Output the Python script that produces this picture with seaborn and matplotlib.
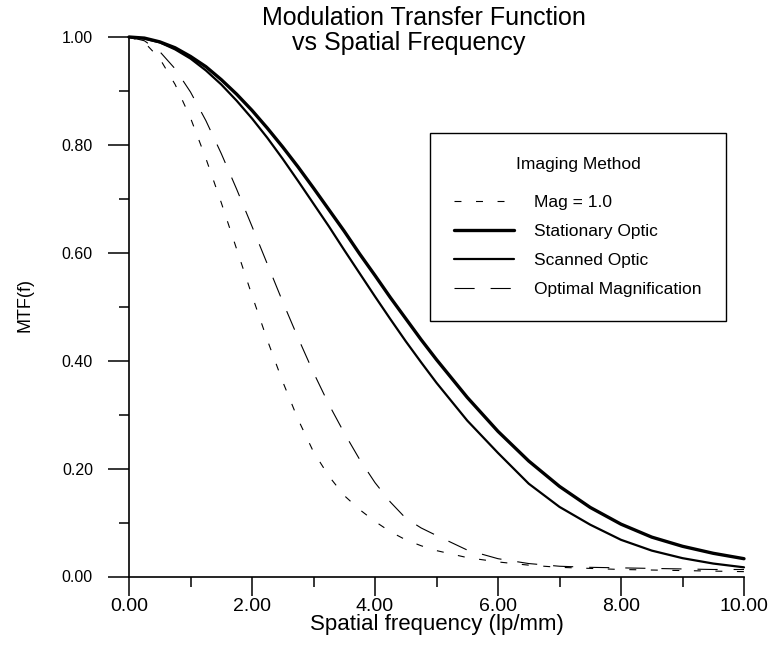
import matplotlib
matplotlib.use("Agg")
import matplotlib.pyplot as plt
from matplotlib.ticker import MultipleLocator, FormatStrFormatter
import seaborn as sns
import pandas as pd

# ---------------- data ----------------
freq = [0.0, 0.25, 0.5, 0.75, 1.0, 1.25, 1.5, 1.75, 2.0, 2.25, 2.5, 2.75,
        3.0, 3.25, 3.5, 3.75, 4.0, 4.25, 4.5, 4.75, 5.0,
        5.5, 6.0, 6.5, 7.0, 7.5, 8.0, 8.5, 9.0, 9.5, 10.0]

mag_one = [1.000, 0.990, 0.960, 0.912, 0.850, 0.775, 0.693, 0.607, 0.521, 0.438,
           0.361, 0.291, 0.231, 0.186, 0.150, 0.124, 0.102, 0.083, 0.068, 0.057,
           0.048, 0.035, 0.027, 0.021, 0.017, 0.015, 0.013, 0.012, 0.011, 0.010, 0.009]

stationary = [1.000, 0.998, 0.991, 0.980, 0.964, 0.945, 0.921, 0.894, 0.864, 0.831,
              0.796, 0.759, 0.720, 0.680, 0.640, 0.598, 0.558, 0.517, 0.478, 0.439,
              0.402, 0.332, 0.269, 0.214, 0.167, 0.128, 0.097, 0.073, 0.056, 0.043, 0.033]

scanned = [1.000, 0.997, 0.990, 0.977, 0.960, 0.938, 0.912, 0.882, 0.849, 0.813,
           0.774, 0.733, 0.691, 0.649, 0.605, 0.562, 0.519, 0.477, 0.436, 0.397,
           0.359, 0.289, 0.229, 0.172, 0.129, 0.096, 0.068, 0.048, 0.034, 0.024, 0.017]

optimal = [1.000, 0.993, 0.973, 0.941, 0.898, 0.845, 0.784, 0.718, 0.649, 0.579,
           0.509, 0.442, 0.378, 0.319, 0.266, 0.217, 0.174, 0.138, 0.108, 0.090,
           0.076, 0.049, 0.033, 0.024, 0.019, 0.017, 0.016, 0.015, 0.014, 0.013, 0.013]

series_names = ["Mag = 1.0", "Stationary Optic", "Scanned Optic", "Optimal Magnification"]
x_ticks = [0, 2, 4, 6, 8, 10]
y_ticks = [0.0, 0.2, 0.4, 0.6, 0.8, 1.0]

# ---------------- style ----------------
sns.set_style("ticks")
plt.rcParams["font.family"] = ["Liberation Sans", "DejaVu Sans"]
plt.rcParams["lines.scale_dashes"] = False
plt.rcParams["text.color"] = "black"
plt.rcParams["axes.labelcolor"] = "black"
plt.rcParams["xtick.color"] = "black"
plt.rcParams["ytick.color"] = "black"

fig = plt.figure(figsize=(7.69, 6.46), dpi=100)
ax = fig.add_axes([129 / 769, 1 - 576.5 / 646, (744 - 129) / 769, (576.5 - 37) / 646])

series_vals = [mag_one, stationary, scanned, optimal]
styles = [
    dict(lw=0.8, dashes=(5, 10.5)),
    dict(lw=2.4, dashes=None),
    dict(lw=1.6, dashes=None),
    dict(lw=0.8, dashes=(14.5, 11.5)),
]

handles = []
for name, vals, st in zip(series_names, series_vals, styles):
    df = pd.DataFrame({"f": freq, "mtf": vals})
    n_before = len(ax.lines)
    sns.lineplot(data=df, x="f", y="mtf", ax=ax, color="black",
                 linewidth=st["lw"], errorbar=None, estimator=None, sort=False)
    line = ax.lines[n_before]
    if st["dashes"] is not None:
        line.set_linestyle((0, st["dashes"]))
    line.set_clip_on(False)
    line.set_label(name)
    handles.append(line)

ax.set_xlim(0, 10)
ax.set_ylim(0, 1.0)
ax.set_xticks(x_ticks)
ax.set_yticks(y_ticks)
ax.xaxis.set_minor_locator(MultipleLocator(1))
ax.yaxis.set_minor_locator(MultipleLocator(0.1))
ax.xaxis.set_major_formatter(FormatStrFormatter("%.2f"))
ax.yaxis.set_major_formatter(FormatStrFormatter("%.2f"))

for s in ["top", "right"]:
    ax.spines[s].set_visible(False)
for s in ["left", "bottom"]:
    ax.spines[s].set_linewidth(1.2)
    ax.spines[s].set_color("black")

ax.tick_params(axis="x", which="major", direction="out", length=14, width=1.1,
               pad=1.5, labelsize=14, colors="black")
ax.tick_params(axis="x", which="minor", direction="out", length=7, width=1.1, colors="black")
ax.tick_params(axis="y", which="major", direction="out", length=15, width=1.1,
               pad=11, labelsize=11.5, colors="black")
ax.tick_params(axis="y", which="minor", direction="out", length=7.5, width=1.1, colors="black")

ax.set_xlabel("Spatial frequency (lp/mm)", fontsize=16, labelpad=-1, color="black")
ax.set_ylabel("")
fig.text(25 / 769, 1 - 305 / 646, "MTF(f)", rotation=90, fontsize=13,
         ha="center", va="center", color="black")

fig.text(424 / 769, 1 - 18 / 646, "Modulation Transfer Function",
         fontsize=18, ha="center", va="center", color="black")
fig.text(409 / 769, 1 - 43 / 646, "vs Spatial Frequency",
         fontsize=18, ha="center", va="center", color="black")

leg = ax.legend(handles=handles, labels=series_names, title="Imaging Method",
                loc="upper left", bbox_to_anchor=(430 / 769, 1 - 133 / 646),
                bbox_transform=fig.transFigure, borderaxespad=0,
                fontsize=12.5, title_fontsize=12.5, frameon=True, fancybox=False,
                edgecolor="black", framealpha=1, borderpad=1.4,
                handlelength=3.45, handletextpad=1.15, labelspacing=0.8)
leg.get_frame().set_linewidth(1.0)
leg._legend_box.sep = 16
for t in leg.get_texts():
    t.set_color("black")
leg.get_title().set_color("black")

fig.savefig("out.png", dpi=100)
